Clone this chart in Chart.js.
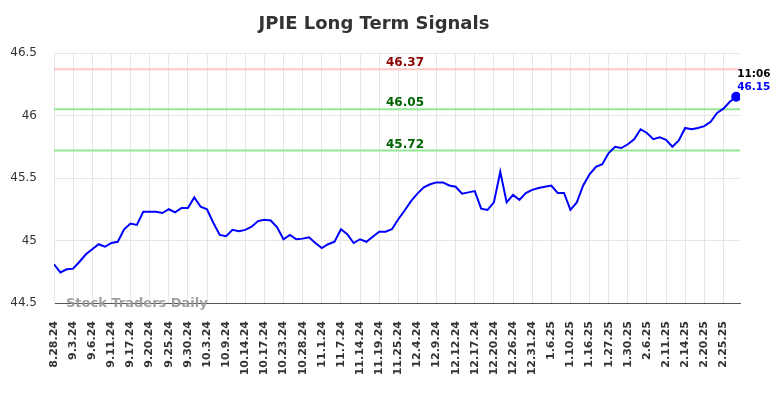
<!DOCTYPE html>
<html>
<head>
<meta charset="utf-8">
<title>JPIE Long Term Signals</title>
<script src="https://cdn.jsdelivr.net/npm/chart.js@4.4.1/dist/chart.umd.min.js"></script>
<style>
  html, body { margin: 0; padding: 0; background: #fff; }
</style>
</head>
<body>
<canvas id="myChart" width="784" height="398"></canvas>
<script>
// tick labels on the x axis, one every 3 trading days
var tickLabels = ['8.28.24', '9.3.24', '9.6.24', '9.11.24', '9.17.24', '9.20.24', '9.25.24', '9.30.24',
  '10.3.24', '10.9.24', '10.14.24', '10.17.24', '10.23.24', '10.28.24', '11.1.24', '11.7.24',
  '11.14.24', '11.19.24', '11.25.24', '12.4.24', '12.9.24', '12.12.24', '12.17.24', '12.20.24',
  '12.26.24', '12.31.24', '1.6.25', '1.10.25', '1.16.25', '1.27.25', '1.30.25', '2.6.25',
  '2.11.25', '2.14.25', '2.20.25', '2.25.25'];

// closing prices, one per trading day
var prices = [
  44.81, 44.745, 44.77, 44.775, 44.83, 44.89, 44.93, 44.97, 44.95, 44.98,
  44.99, 45.09, 45.135, 45.125, 45.23, 45.23, 45.23, 45.22, 45.25, 45.225,
  45.26, 45.26, 45.345, 45.27, 45.25, 45.14, 45.045, 45.035, 45.085, 45.075,
  45.085, 45.11, 45.155, 45.165, 45.16, 45.105, 45.01, 45.045, 45.01, 45.015,
  45.025, 44.98, 44.94, 44.97, 44.99, 45.09, 45.05, 44.98, 45.01, 44.99,
  45.03, 45.07, 45.07, 45.09, 45.17, 45.24, 45.315, 45.375, 45.425, 45.45,
  45.465, 45.465, 45.44, 45.43, 45.375, 45.385, 45.395, 45.255, 45.245, 45.305,
  45.55, 45.305, 45.365, 45.325, 45.38, 45.405, 45.42, 45.43, 45.44, 45.38,
  45.38, 45.245, 45.305, 45.44, 45.53, 45.59, 45.61, 45.70, 45.75, 45.74,
  45.77, 45.81, 45.89, 45.86, 45.81, 45.825, 45.805, 45.75, 45.80, 45.90,
  45.89, 45.90, 45.915, 45.95, 46.02, 46.055, 46.11, 46.15
];

// signal levels
var levelValues = [46.37, 46.05, 45.72];
var levelLabels = ['46.37', '46.05', '45.72'];

var lastTime = '11:06';
var lastLabel = '46.15';

var FONT = "'DejaVu Sans', Verdana, sans-serif";
Chart.defaults.font.family = FONT;

var levelLineColors = ['#ffc6c6', '#93e893', '#93e893'];
var levelTextColors = ['#8b0000', '#006400', '#006400'];

// lignes de signal (sous la courbe)
var levelLines = {
  id: 'levelLines',
  beforeDatasetsDraw: function (chart) {
    var ctx = chart.ctx, area = chart.chartArea, y = chart.scales.y;
    ctx.save();
    levelValues.forEach(function (v, k) {
      var py = y.getPixelForValue(v);
      ctx.strokeStyle = levelLineColors[k];
      ctx.lineWidth = 2;
      ctx.beginPath();
      ctx.moveTo(area.left, py);
      ctx.lineTo(area.right, py);
      ctx.stroke();
    });
    ctx.restore();
  },
  afterDraw: function (chart) {
    var ctx = chart.ctx, area = chart.chartArea, x = chart.scales.x, y = chart.scales.y;
    ctx.save();
    // textos dos niveis
    ctx.font = 'bold 12px ' + FONT;
    ctx.textAlign = 'center';
    ctx.textBaseline = 'alphabetic';
    levelValues.forEach(function (v, k) {
      ctx.fillStyle = levelTextColors[k];
      ctx.fillText(levelLabels[k], 405, y.getPixelForValue(v) - 3);
    });
    // marca d'agua
    ctx.font = 'bold 13px ' + FONT;
    ctx.textAlign = 'left';
    ctx.fillStyle = 'rgba(150,150,150,0.9)';
    ctx.fillText('Stock Traders Daily', 66, area.bottom + 4);
    // ultimo valor
    var n = prices.length - 1;
    var px = x.getPixelForValue(n), py = y.getPixelForValue(prices[n]);
    ctx.font = 'bold 10.5px ' + FONT;
    ctx.fillStyle = '#000';
    ctx.fillText(lastTime, px + 1, py - 20);
    ctx.fillStyle = '#0000ff';
    ctx.fillText(lastLabel, px + 1, py - 7);
    ctx.restore();
  }
};

var ctx = document.getElementById('myChart').getContext('2d');
var myChart = new Chart(ctx, {
  type: 'line',
  data: {
    datasets: [{
      data: prices.map(function (v, i) { return { x: i, y: v }; }),
      borderColor: '#0000ff',
      backgroundColor: '#0000ff',
      borderWidth: 2,
      tension: 0,
      pointRadius: function (c) { return c.dataIndex === prices.length - 1 ? 4 : 0; },
      pointHoverRadius: 0,
      fill: false
    }]
  },
  options: {
    responsive: false,
    devicePixelRatio: 1,
    animation: false,
    layout: { padding: { left: 8, right: 44, top: 0, bottom: 0 } },
    plugins: {
      legend: { display: false },
      tooltip: { enabled: false },
      title: {
        display: true,
        text: 'JPIE Long Term Signals',
        color: '#333333',
        font: { size: 18, weight: 'bold', family: FONT },
        padding: { top: 14, bottom: 17.4 }
      }
    },
    scales: {
      x: {
        type: 'linear',
        min: 0,
        max: 107.6,
        afterBuildTicks: function (s) {
          s.ticks = tickLabels.map(function (_, k) { return { value: k * 3 }; });
        },
        afterFit: function (s) { s.height = 95; },
        ticks: {
          autoSkip: false,
          minRotation: 90,
          maxRotation: 90,
          padding: 18,
          color: '#333333',
          font: { size: 11, weight: 'bold' },
          callback: function (v) { return tickLabels[Math.round(v / 3)]; }
        },
        grid: { color: '#e6e6e6', drawTicks: false },
        border: { color: '#555555', width: 1 }
      },
      y: {
        min: 44.5,
        max: 46.5,
        afterFit: function (s) { s.width = 46; },
        ticks: {
          stepSize: 0.5,
          padding: 17,
          color: '#333333',
          font: { size: 12 },
          callback: function (v) { return String(Math.round(v * 10) / 10); }
        },
        grid: { color: '#e6e6e6', drawTicks: false },
        border: { color: '#e6e6e6' }
      }
    }
  },
  plugins: [levelLines]
});
</script>
</body>
</html>
